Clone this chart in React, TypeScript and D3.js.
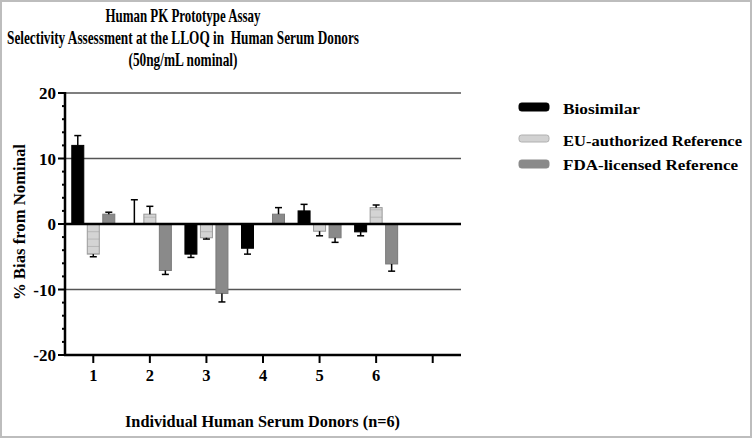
import React from "react";
import * as d3 from "d3";

const categories = ["1", "2", "3", "4", "5", "6"];
const tickValues = [1, 2, 3, 4, 5, 6, 7];
const seriesNames = ["Biosimilar", "EU-authorized Reference", "FDA-licensed Reference"];
const biosimilar = [12.0, 0, -4.6, -3.7, 2.0, -1.2];
const biosimilarErr = [1.5, 3.7, 0.5, 0.9, 1.0, 0.6];
const euRef: (number | null)[] = [-4.6, 1.5, -2.1, null, -1.1, 2.5];
const euRefErr: (number | null)[] = [0.4, 1.2, 0.2, null, 0.7, 0.4];
const fdaRef = [1.5, -7.1, -10.6, 1.5, -2.1, -6.1];
const fdaRefErr = [0.3, 0.6, 1.3, 1.0, 0.7, 1.1];
const yTicks = [-20, -10, 0, 10, 20];
const gridValues = [20, 10, -10];
const titleLines = [
  "Human PK Prototype Assay",
  "Selectivity Assessment at the LLOQ in  Human Serum Donors",
  "(50ng/mL nominal)",
];

const W = 753;
const H = 440;
const FONT = "'Liberation Serif', 'Times New Roman', serif";

export default function App() {
  const x = d3.scaleLinear().domain([0.5, 7.5]).range([65, 461]);
  const y = d3.scaleLinear().domain([-20, 20]).range([355, 93]);
  const sub = d3.scaleBand<string>().domain(seriesNames).range([-21.5, 21.5]).paddingInner(0.226).paddingOuter(0);
  const bw = sub.bandwidth();
  const y0 = y(0);
  const minorTicks = d3.range(-20, 20.01, 2).filter((v) => v % 10 !== 0);

  const series = [
    { name: seriesNames[0], vals: biosimilar as (number | null)[], errs: biosimilarErr as (number | null)[], fill: "#000000", stroke: "#000000" },
    { name: seriesNames[1], vals: euRef, errs: euRefErr, fill: "url(#euPat)", stroke: "#9a9a9a" },
    { name: seriesNames[2], vals: fdaRef as (number | null)[], errs: fdaRefErr as (number | null)[], fill: "#8a8a8a", stroke: "#7a7a7a" },
  ];

  const legend = [
    { name: seriesNames[0], fill: "#000", ry: 103, rh: 8, ty: 114 },
    { name: seriesNames[1], fill: "#d2d2d2", ry: 135, rh: 7, ty: 146 },
    { name: seriesNames[2], fill: "#8a8a8a", ry: 160, rh: 8, ty: 170 },
  ];

  return (
    <svg width={W} height={H} style={{ position: "fixed", left: 0, top: 0, background: "#fff" }} fontFamily={FONT}>
      <defs>
        <pattern id="euPat" patternUnits="userSpaceOnUse" x={0} y={y0} width={10} height={7.3}>
          <rect width={10} height={7.3} fill="#d4d4d4" />
          <line x1={0} x2={10} y1={0} y2={0} stroke="#9a9a9a" strokeWidth={1} />
        </pattern>
      </defs>
      <rect x={1} y={1} width={750} height={436} fill="#fff" stroke="#bdbdbd" strokeWidth={2} />

      {titleLines.map((t, i) => (
        <text key={i} x={183} y={22 + i * 22} textAnchor="middle" fontWeight="bold" fontSize={19}
          style={{ whiteSpace: "pre" }} xmlSpace="preserve"
          textLength={[155, 352, 109][i]} lengthAdjust="spacingAndGlyphs">{t}</text>
      ))}

      {gridValues.map((v) => (
        <line key={v} x1={65} x2={461} y1={y(v)} y2={y(v)} stroke="#555" strokeWidth={1.5} />
      ))}

      {series.map((s) =>
        s.vals.map((v, i) => {
          if (v === null) return null;
          const cx = x(i + 1) + (sub(s.name) as number) + bw / 2;
          const top = Math.min(y(v), y0);
          const h = Math.abs(y(v) - y0);
          const e = s.errs[i];
          const ev = e === null ? v : v >= 0 ? v + e : v - e;
          return (
            <g key={s.name + i}>
              {h > 0 && <rect x={cx - bw / 2} y={top} width={bw} height={h} fill={s.fill} stroke={s.stroke} strokeWidth={1} />}
              {e !== null && (
                <g stroke="#000" strokeWidth={1.5}>
                  <line x1={cx} x2={cx} y1={y(v)} y2={y(ev)} />
                  <line x1={cx - 3.5} x2={cx + 3.5} y1={y(ev)} y2={y(ev)} />
                </g>
              )}
            </g>
          );
        })
      )}

      <line x1={65} x2={461} y1={y0} y2={y0} stroke="#000" strokeWidth={2.5} />

      {/* y axis */}
      <line x1={65} x2={65} y1={y(20) - 1} y2={y(-20) + 1} stroke="#000" strokeWidth={2.5} />
      {yTicks.map((v) => (
        <g key={v}>
          <line x1={58} x2={65} y1={y(v)} y2={y(v)} stroke="#000" strokeWidth={2} />
          <text x={56} y={y(v) + 6} textAnchor="end" fontWeight="bold" fontSize={17}>{v}</text>
        </g>
      ))}
      {minorTicks.map((v) => (
        <line key={v} x1={62} x2={65} y1={y(v)} y2={y(v)} stroke="#000" strokeWidth={2} />
      ))}

      {/* x axis */}
      <line x1={64} x2={461} y1={355} y2={355} stroke="#000" strokeWidth={2.5} />
      {tickValues.map((v) => (
        <line key={v} x1={x(v)} x2={x(v)} y1={355} y2={363} stroke="#000" strokeWidth={2} />
      ))}
      {categories.map((c, i) => (
        <text key={c} x={x(i + 1)} y={381} textAnchor="middle" fontWeight="bold" fontSize={16.5}>{c}</text>
      ))}

      <text x={262.5} y={427} textAnchor="middle" fontWeight="bold" fontSize={17}
        textLength={275} lengthAdjust="spacingAndGlyphs">Individual Human Serum Donors (n=6)</text>
      <text transform={`translate(25,222) rotate(-90)`} textAnchor="middle" fontWeight="bold" fontSize={17}
        textLength={156} lengthAdjust="spacingAndGlyphs">% Bias from Nominal</text>

      {legend.map((l, i) => (
        <g key={l.name}>
          <rect x={519} y={l.ry} width={30} height={l.rh} rx={2.5} fill={l.fill} stroke={i === 1 ? "#b0b0b0" : l.fill} strokeWidth={1} />
          <text x={563} y={l.ty} fontWeight="bold" fontSize={15.5} textLength={[77, 179, 175][i]} lengthAdjust="spacingAndGlyphs">{l.name}</text>
        </g>
      ))}
    </svg>
  );
}
